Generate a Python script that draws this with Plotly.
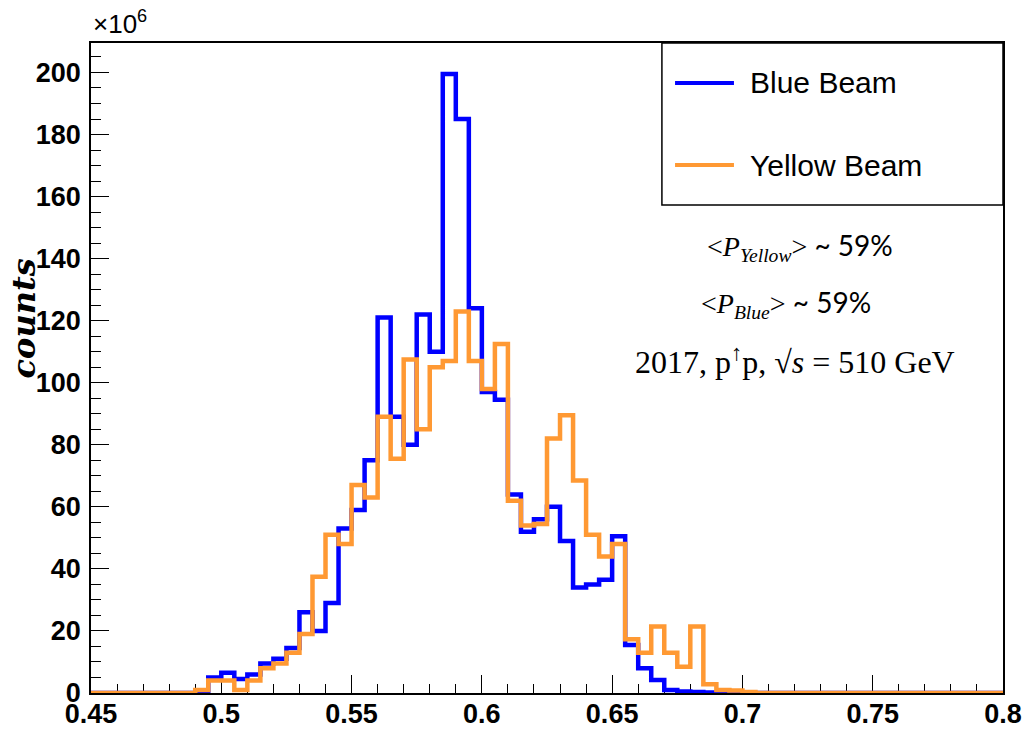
import numpy as np
import plotly.graph_objects as go

# ---- data (bin contents in units of 10^6, 70 bins of width 0.005 from 0.45 to 0.8)
x_min, x_max, n_bins = 0.45, 0.80, 70
blue_beam = [
    0, 0, 0, 0, 0, 0, 0, 0, 0.3, 5,
    6.5, 4.5, 6, 9.5, 11, 14.5, 26, 20, 29, 53,
    59, 75, 121, 89, 80, 122, 110, 199.5, 185, 124,
    97, 94.5, 64, 52, 56, 60, 49, 34, 35, 36.5,
    50.5, 15.5, 8, 4.2, 1, 0.5, 0.3, 0.2, 0.1, 0,
    0, 0, 0, 0, 0, 0, 0, 0, 0, 0,
    0, 0, 0, 0, 0, 0, 0, 0, 0, 0,
]
yellow_beam = [
    0, 0, 0, 0, 0, 0, 0, 0, 1, 4,
    4, 1, 4, 8, 9.5, 13, 19, 37.5, 51, 48,
    67, 63, 89, 75.5, 107.5, 85, 105, 107, 123, 107,
    98, 112.5, 62, 54, 54.5, 82, 89.5, 68.5, 51, 44,
    48, 17.3, 13, 21.4, 13, 8.5, 21.4, 2.8, 1, 0.8,
    0.3, 0, 0, 0, 0, 0, 0, 0, 0, 0,
    0, 0, 0, 0, 0, 0, 0, 0, 0, 0,
]
x_ticks = [0.45, 0.5, 0.55, 0.6, 0.65, 0.7, 0.75, 0.8]
x_tick_labels = ["0.45", "0.5", "0.55", "0.6", "0.65", "0.7", "0.75", "0.8"]
y_ticks = [0, 20, 40, 60, 80, 100, 120, 140, 160, 180, 200]

edges = np.linspace(x_min, x_max, n_bins + 1)

BLUE = "#0000FF"
ORANGE = "#FF9933"

fig = go.Figure()
for name, vals, col in [("Blue Beam", blue_beam, BLUE), ("Yellow Beam", yellow_beam, ORANGE)]:
    fig.add_trace(go.Scatter(
        x=edges, y=list(vals) + [vals[-1]],
        mode="lines", line=dict(shape="hv", color=col, width=4.5),
        name=name, showlegend=False, hoverinfo="skip",
    ))

tickfont = dict(family="Liberation Sans", size=27, color="black", weight="bold")
fig.update_xaxes(
    range=[x_min, x_max], tickvals=x_ticks, ticktext=x_tick_labels,
    ticks="inside", ticklen=18, tickwidth=1.2, tickcolor="black",
    minor=dict(dtick=0.01, tick0=0.45, ticks="inside", ticklen=9, tickwidth=1.2, tickcolor="black", showgrid=False),
    showline=True, linecolor="black", linewidth=1.5, mirror=True, automargin=False,
    showgrid=False, zeroline=False, tickfont=tickfont, ticklabelstandoff=-4,
    layer="below traces",
)
fig.update_yaxes(
    range=[0, 209.5], tickvals=y_ticks,
    ticks="inside", ticklen=18, tickwidth=1.2, tickcolor="black",
    minor=dict(dtick=5, tick0=0, ticks="inside", ticklen=10, tickwidth=1.2, tickcolor="black", showgrid=False),
    showline=True, linecolor="black", linewidth=1.5, mirror=True, automargin=False,
    showgrid=False, zeroline=False, tickfont=tickfont, ticklabelstandoff=3,
    layer="below traces",
)

# legend box drawn by hand (ROOT style)
fig.add_shape(type="rect", xref="paper", yref="paper", x0=0.626, x1=1.0, y0=0.7508, y1=1.0,
              line=dict(color="black", width=1.5), fillcolor="white", layer="above")
for yv, col, label in [(0.9385, BLUE, "Blue Beam"), (0.8123, ORANGE, "Yellow Beam")]:
    fig.add_shape(type="line", xref="paper", yref="paper", x0=0.6404, x1=0.705, y0=yv, y1=yv,
                  line=dict(color=col, width=4))
    fig.add_annotation(xref="paper", yref="paper", x=0.7204, y=yv, text=label, showarrow=False,
                       xanchor="left", yanchor="middle",
                       font=dict(family="Liberation Sans", size=30, color="black"))

serif = "font-family:'Liberation Serif'"
fig.add_annotation(
    xref="paper", yref="paper", x=(800 - 91) / 912, y=(693 - 247) / 650, showarrow=False,
    text=f"<span style=\"{serif}\">&lt;<i>P</i><sub><i>Yellow</i></sub>&gt;</span> ~ 59%",
    font=dict(family="Lato", size=28, color="black"), xanchor="center", yanchor="middle")
fig.add_annotation(
    xref="paper", yref="paper", x=(786 - 91) / 912, y=(693 - 304) / 650, showarrow=False,
    text=f"<span style=\"{serif}\">&lt;<i>P</i><sub><i>Blue</i></sub>&gt;</span> ~ 59%",
    font=dict(family="Lato", size=28, color="black"), xanchor="center", yanchor="middle")
fig.add_annotation(
    xref="paper", yref="paper", x=(795 - 91) / 912, y=(693 - 360) / 650, showarrow=False,
    text="2017, p<sup>↑</sup>p, √<i>s</i> = 510 GeV",
    font=dict(family="Liberation Serif", size=32, color="black"), xanchor="center", yanchor="middle")

# exponent and axis title
fig.add_annotation(xref="paper", yref="paper", x=0.0, y=1.0, yshift=2, showarrow=False,
                   text="×10<sup>6</sup>", xanchor="left", yanchor="bottom",
                   font=dict(family="Liberation Sans", size=26, color="black"))
fig.add_annotation(xref="paper", yref="paper", x=-0.073, y=(693 - 318) / 650, showarrow=False,
                   text="<b><i>counts</i></b>", textangle=-90, xanchor="center", yanchor="middle",
                   font=dict(family="DejaVu Serif", size=32, color="black"))

fig.update_layout(
    width=1026, height=732, margin=dict(l=91, r=23, t=43, b=39),
    paper_bgcolor="white", plot_bgcolor="white", showlegend=False,
)
fig.write_html("out.html")
